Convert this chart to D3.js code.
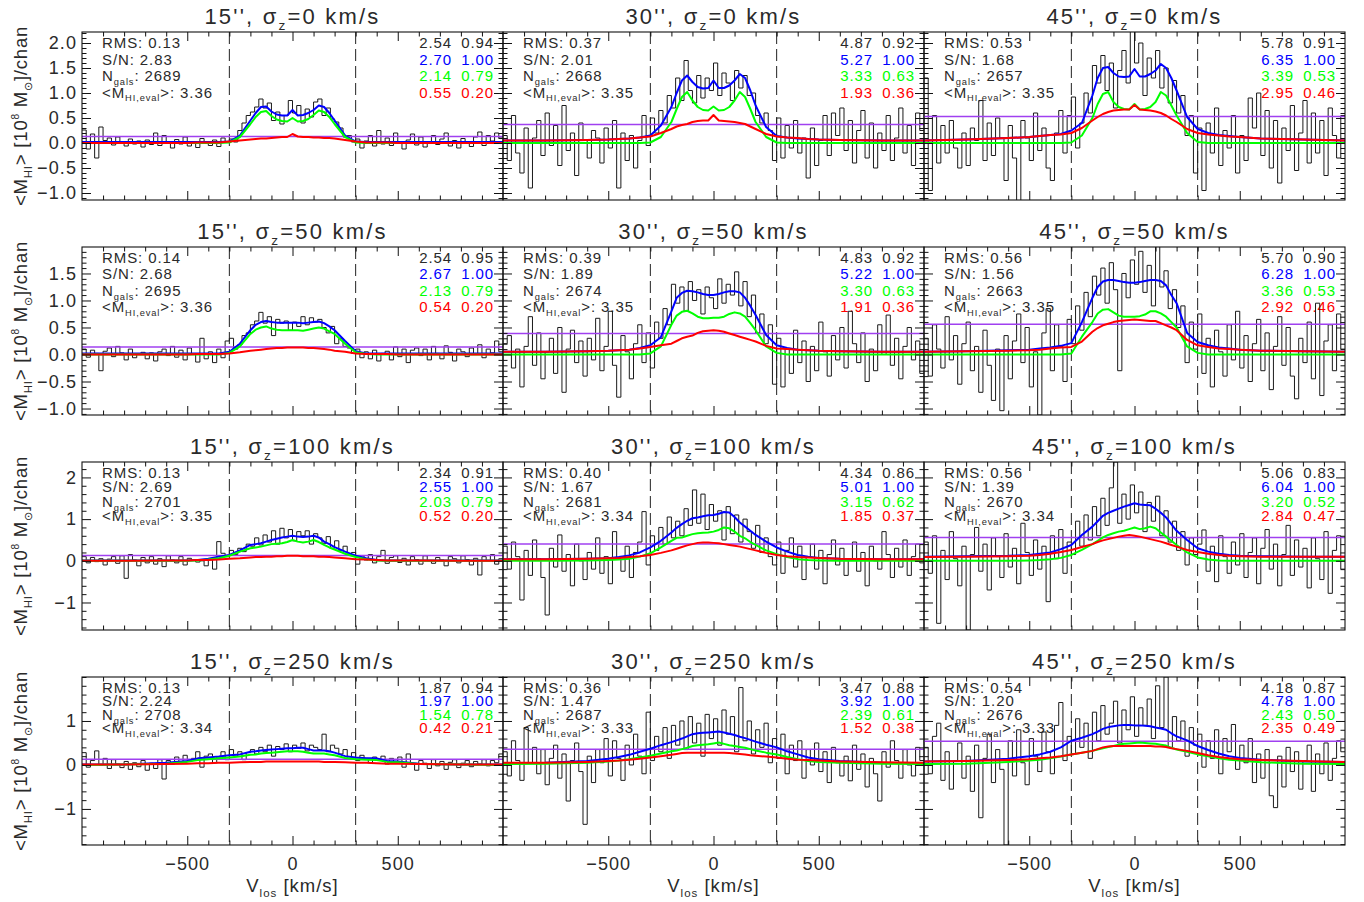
<!DOCTYPE html>
<html>
<head>
<meta charset="utf-8">
<script src="https://cdn.jsdelivr.net/npm/d3@7"></script>
<style>
  body { margin: 0; background: #fff; }
  svg text { font-family: "Liberation Sans", Arial, sans-serif; fill: #2a2a2a; }
</style>
</head>
<body>
<svg id="fig" width="1364" height="902"></svg>
<script>
// ---- stacked HI spectra: apertures (columns) x velocity dispersion (rows) ----
const apertures = ["15''", "30''", "45''"];
const sigmaZ = [0, 50, 100, 250];

// channel centres of the stacked spectra, km/s (20 km/s channels)
const chanV = d3.range(-990, 991, 20);
// velocity grid of the model profiles, km/s
const modelV = [-1000,-800,-600,-500,-450,-400,-350,-300,-250,-200,-175,-150,-125,-100,-75,-50,-25,0,
                25,50,75,100,125,150,175,200,250,300,350,400,450,500,600,800,1000];

const xTicksMajor = [-500, 0, 500];
const yTicksMajor = [[-1.0,-0.5,0.0,0.5,1.0,1.5,2.0], [-1.0,-0.5,0.0,0.5,1.0,1.5], [-1,0,1,2], [-1,0,1]];
const yRange = [[-1.14, 2.22], [-1.12, 1.99], [-1.66, 2.37], [-1.82, 2.0]];

// annotation values
const rms   = [[0.13,0.37,0.53],[0.14,0.39,0.56],[0.13,0.40,0.56],[0.13,0.36,0.54]];
const snr   = [[2.83,2.01,1.68],[2.68,1.89,1.56],[2.69,1.67,1.39],[2.24,1.47,1.20]];
const nGals = [[2689,2668,2657],[2695,2674,2663],[2701,2681,2670],[2708,2687,2676]];
const mEval = [[3.36,3.35,3.35],[3.36,3.35,3.35],[3.35,3.34,3.34],[3.34,3.33,3.33]];
const fluxObs   = [[[2.54,0.94],[4.87,0.92],[5.78,0.91]],[[2.54,0.95],[4.83,0.92],[5.70,0.90]],[[2.34,0.91],[4.34,0.86],[5.06,0.83]],[[1.87,0.94],[3.47,0.88],[4.18,0.87]]];
const fluxTotal = [[[2.70,1.00],[5.27,1.00],[6.35,1.00]],[[2.67,1.00],[5.22,1.00],[6.28,1.00]],[[2.55,1.00],[5.01,1.00],[6.04,1.00]],[[1.97,1.00],[3.92,1.00],[4.78,1.00]]];
const fluxTarget= [[[2.14,0.79],[3.33,0.63],[3.39,0.53]],[[2.13,0.79],[3.30,0.63],[3.36,0.53]],[[2.03,0.79],[3.15,0.62],[3.20,0.52]],[[1.54,0.78],[2.39,0.61],[2.43,0.50]]];
const fluxConf  = [[[0.55,0.20],[1.93,0.36],[2.95,0.46]],[[0.54,0.20],[1.91,0.36],[2.92,0.46]],[[0.52,0.20],[1.85,0.37],[2.84,0.47]],[[0.42,0.21],[1.52,0.38],[2.35,0.49]]];

// ---- stacked spectra (10^8 Msun per channel) ----
const obs_s0_15 = [0.26,-0.12,0.18,-0.30,0.32,0.05,0.10,-0.04,0.12,0.02,
 -0.06,0.08,-0.02,0.04,-0.08,0.06,-0.03,0.20,-0.05,0.15,
 0.01,-0.10,0.07,-0.02,0.12,-0.06,0.03,-0.09,0.09,0.00,
 -0.05,0.06,-0.07,0.10,0.03,0.08,0.02,0.25,0.40,0.55,
 0.62,0.72,0.88,0.70,0.80,0.45,0.62,0.38,0.55,0.85,
 0.60,0.75,0.40,0.68,0.52,0.82,0.88,0.55,0.70,0.48,
 0.42,0.30,0.12,0.15,0.02,0.08,-0.10,0.04,0.15,-0.06,
 0.25,-0.02,0.10,-0.05,0.20,0.02,-0.12,0.06,0.18,-0.04,
 0.12,-0.08,0.03,0.15,-0.03,0.08,0.20,-0.06,0.05,-0.10,
 0.09,0.02,-0.07,0.12,0.22,-0.05,0.15,0.04,0.20,0.10];
const obs_s0_30 = [0.15,-0.35,0.55,-0.20,-0.60,0.30,-0.90,0.10,0.45,-0.25,
 0.60,-0.05,0.35,-0.45,0.75,-0.15,0.20,-0.65,0.40,0.05,
 -0.30,0.25,0.10,-0.40,0.30,-0.10,0.45,-0.90,0.20,-0.35,
 0.15,-0.50,0.05,0.55,-0.05,0.50,0.20,0.65,0.40,0.95,
 0.70,1.30,0.85,1.65,1.05,0.80,1.35,0.90,1.30,1.05,
 1.60,0.95,1.40,1.20,0.85,1.45,1.10,1.35,0.95,1.00,
 0.55,0.40,0.60,0.25,-0.35,0.50,-0.30,0.35,-0.10,0.45,
 -0.20,0.10,-0.70,0.30,-0.45,0.05,0.55,-0.25,0.60,0.15,
 0.70,-0.15,0.45,-0.40,0.25,0.65,-0.30,0.40,-0.50,0.20,
 -0.15,0.55,-0.35,0.10,0.70,-0.20,0.35,-0.45,0.60,0.25];
const obs_s0_45 = [1.30,-0.95,0.55,-0.40,0.35,-0.20,0.45,-0.10,-0.50,0.20,
 -0.45,0.30,0.05,0.85,-0.35,0.40,-0.25,0.50,0.10,-0.75,
 0.35,-0.30,-1.15,0.45,0.10,-0.35,0.60,-0.15,0.30,-0.50,
 -0.75,0.20,0.65,-0.20,0.55,0.92,-0.10,0.40,1.00,0.60,
 1.55,1.20,1.75,1.05,1.60,0.70,1.45,1.85,1.20,2.30,
 1.60,2.00,0.95,1.70,1.30,1.85,1.10,1.50,0.80,1.25,
 0.60,0.95,0.15,0.55,-0.60,0.30,-0.95,0.40,-0.20,0.70,
 -0.45,0.25,-0.10,0.55,-0.60,0.15,-0.35,0.90,0.30,1.00,
 -0.25,0.65,-0.50,0.45,-0.80,0.30,-0.15,0.75,-0.55,0.20,
 0.85,-0.40,0.60,-0.20,0.45,-0.65,0.70,0.15,-0.30,0.55];
const obs_s50_15 = [0.10,-0.05,0.08,0.02,-0.30,0.06,0.12,-0.04,0.15,0.03,
 -0.10,0.10,-0.06,0.00,0.04,-0.08,0.03,-0.12,0.05,0.10,
 -0.02,0.15,-0.05,0.08,-0.10,0.12,0.00,-0.14,0.30,-0.08,
 0.05,-0.15,0.10,-0.06,0.25,0.30,0.10,0.18,0.35,0.40,
 0.55,0.62,0.78,0.58,0.70,0.35,0.65,0.58,0.62,0.45,
 0.60,0.52,0.70,0.55,0.68,0.60,0.65,0.50,0.40,0.52,
 0.20,0.30,0.15,0.12,0.02,0.10,-0.06,0.05,-0.08,0.08,
 -0.12,0.02,0.06,-0.10,0.14,-0.04,0.10,-0.15,0.08,0.12,
 -0.02,0.10,-0.10,0.15,0.02,-0.08,0.16,0.04,-0.12,0.10,
 0.05,-0.04,0.12,0.00,0.18,-0.06,0.10,0.03,0.25,0.05];
const obs_s50_30 = [0.20,0.35,-0.25,0.10,-0.60,0.15,0.70,-0.20,0.40,-0.45,
 0.05,0.30,-0.35,0.50,-0.70,0.10,0.45,-0.15,0.25,-0.40,
 0.30,-0.10,0.67,-0.30,0.15,0.80,-0.20,-0.79,0.35,0.05,
 -0.45,0.20,0.55,-0.15,0.40,-0.25,0.60,0.30,0.85,0.55,
 1.30,0.95,1.25,0.80,1.35,1.00,1.20,0.75,1.25,1.05,
 0.85,1.40,0.95,1.30,1.10,1.53,0.90,1.35,0.70,1.10,
 0.40,0.75,0.20,0.55,-0.55,0.30,-0.60,0.10,-0.35,0.45,
 -0.15,0.25,-0.50,0.15,-0.30,0.60,0.05,-0.40,0.35,-0.10,
 0.50,-0.25,0.80,0.20,-0.15,0.40,-0.50,0.10,-0.30,0.55,
 0.00,0.73,-0.20,0.30,-0.45,0.15,0.50,-0.10,0.25,-0.35];
const obs_s50_45 = [0.30,-0.40,0.55,0.10,-0.25,0.70,-0.10,0.35,-0.55,0.20,
 0.60,-0.30,0.15,-0.70,0.45,-0.20,-0.85,0.10,-1.04,0.35,
 -0.45,0.25,0.75,-0.15,0.50,-0.60,0.05,-1.12,0.40,0.85,
 -0.30,0.55,0.15,-0.50,0.65,0.20,0.90,0.45,1.15,0.70,
 1.45,1.10,1.60,0.95,1.70,1.20,-0.30,1.50,1.05,1.75,
 1.30,1.91,1.15,1.65,0.90,2.00,1.25,1.55,0.85,1.20,
 0.50,0.90,-0.15,0.60,0.10,0.75,-0.35,0.30,-0.60,0.45,
 0.05,-0.40,0.55,-0.10,0.80,-0.25,0.35,-0.50,0.20,0.65,
 -0.30,0.40,-0.65,0.15,0.70,-0.20,0.50,-0.40,-0.82,0.30,
 -0.15,0.60,-0.45,0.95,-0.76,0.25,0.55,-0.30,0.75,0.10];
const obs_s100_15 = [0.10,-0.05,0.08,-0.02,0.05,-0.10,0.04,0.10,-0.06,0.12,
 -0.42,0.15,0.02,-0.12,0.08,-0.05,0.10,-0.08,0.05,-0.14,
 0.12,0.02,-0.05,0.10,-0.10,0.06,0.02,-0.03,0.00,-0.12,
 0.05,-0.20,0.46,0.18,0.10,0.25,0.15,0.30,0.22,0.40,
 0.35,0.55,0.38,0.62,0.45,0.72,0.40,0.78,0.55,0.75,
 0.48,0.70,0.60,0.72,0.40,0.65,0.55,0.42,0.58,0.30,
 0.48,0.25,0.35,0.15,0.20,-0.08,0.12,0.02,0.15,-0.05,
 0.10,0.25,-0.06,0.08,0.12,-0.04,0.06,-0.10,0.10,0.03,
 -0.08,0.12,0.00,-0.06,0.08,0.02,-0.12,0.10,0.05,-0.05,
 0.12,0.03,-0.10,0.06,-0.34,0.10,0.00,0.15,-0.08,0.05];
const obs_s100_30 = [0.35,-0.20,0.45,0.10,-0.94,0.25,-0.35,0.50,0.05,-0.40,
 -1.30,0.30,-0.15,0.62,-0.25,0.15,-0.60,0.40,0.00,-0.45,
 0.20,-0.20,0.55,-0.30,0.10,-0.55,0.70,0.05,-0.25,0.35,
 -0.40,0.20,0.45,1.18,-0.10,0.60,0.25,0.80,0.40,1.05,
 0.55,0.95,0.60,1.25,0.85,1.70,0.90,1.60,0.75,1.35,
 0.95,1.20,0.50,1.30,0.65,1.10,0.45,1.00,0.70,0.30,
 0.85,0.20,0.55,0.10,-0.10,0.45,-0.30,0.25,0.55,-0.15,
 0.35,-0.45,0.10,0.40,-0.20,0.25,-0.55,0.15,0.50,-0.10,
 0.30,-0.35,0.05,0.45,-0.25,0.20,-0.60,0.35,0.00,-0.20,
 0.70,0.15,-0.40,0.30,-0.15,0.50,-0.35,0.10,0.40,-0.05];
const obs_s100_45 = [0.45,-0.30,0.60,-1.50,0.25,-0.45,0.70,0.05,-0.60,0.35,
 -1.66,0.15,0.80,-0.25,0.40,-0.70,0.55,0.10,-0.40,0.65,
 -0.15,0.30,-0.55,0.90,0.20,-0.35,0.50,-0.20,0.35,-0.98,
 0.60,0.05,0.75,-0.30,0.45,0.15,0.95,0.35,1.10,0.50,
 1.30,0.60,1.50,0.85,1.75,2.37,0.90,1.60,1.00,1.82,
 1.15,1.65,0.70,1.40,0.95,1.55,0.60,1.20,0.45,0.95,
 0.25,0.70,-0.10,0.55,0.15,0.40,0.74,-0.25,0.35,-0.50,
 0.60,0.10,-0.30,0.45,-0.10,0.65,-0.40,0.20,0.55,-0.55,
 0.30,0.75,-0.20,0.40,-0.60,0.15,0.85,-0.35,0.50,-0.15,
 0.30,-0.65,0.55,0.05,-0.45,0.70,-0.78,0.25,0.60,-0.20];
const obs_s250_15 = [0.28,-0.05,0.10,0.32,0.00,0.15,-0.08,0.12,0.02,-0.06,
 0.08,-0.10,0.05,-0.04,0.10,-0.12,0.04,-0.08,0.12,-0.32,
 0.10,0.02,0.18,0.05,0.22,0.08,0.15,0.30,-0.05,0.20,
 0.25,0.05,0.18,0.30,0.12,0.35,0.20,0.30,0.12,0.28,
 0.35,0.25,0.40,0.30,0.45,0.20,0.42,0.35,0.48,0.30,
 0.45,0.38,0.50,0.32,0.45,0.40,0.35,0.70,0.30,0.45,
 0.38,0.25,0.35,0.15,0.28,0.10,0.22,0.15,0.05,0.18,
 0.12,0.20,0.02,0.15,0.08,0.18,-0.05,0.25,0.02,-0.12,
 0.10,0.04,-0.08,0.12,-0.02,0.08,-0.10,0.06,0.12,-0.06,
 0.04,0.10,-0.04,0.08,0.02,0.12,-0.02,0.10,0.05,0.25];
const obs_s250_30 = [0.30,-0.25,0.55,0.10,-0.35,0.85,0.05,0.40,-0.20,0.35,
 -0.45,0.15,0.45,-0.30,0.25,-0.82,0.10,0.50,-0.15,-1.35,
 0.20,-0.40,0.35,0.05,0.60,-0.25,0.55,0.15,-0.35,0.45,
 0.00,0.70,0.20,-0.20,1.20,0.10,0.65,0.30,0.85,0.15,
 0.90,0.45,1.00,0.35,1.10,0.50,0.95,0.20,1.15,0.60,
 1.05,0.45,1.25,0.70,1.10,0.30,1.76,0.55,1.00,0.25,
 0.80,0.40,0.95,0.05,0.60,0.15,0.70,-0.20,0.45,0.10,
 0.55,-0.30,0.35,0.00,0.50,-0.15,0.30,-0.40,0.40,0.05,
 -0.25,0.20,-0.36,0.45,-0.10,0.25,-0.50,0.15,-0.20,-0.82,
 0.30,-0.05,0.55,0.10,-0.30,0.35,0.00,-0.25,0.40,0.10];
const obs_s250_45 = [0.40,-0.20,0.65,0.95,-0.35,0.30,-0.55,0.10,0.50,-0.30,
 0.20,-0.60,0.45,-1.20,0.15,0.70,-0.40,0.35,-0.10,-1.82,
 0.55,-0.25,0.80,0.05,-0.45,0.60,0.20,-0.15,0.75,0.30,
 -0.20,0.90,1.42,0.10,0.65,0.25,1.05,0.40,0.95,0.15,
 1.20,0.55,1.35,0.70,0.95,1.45,0.50,1.25,0.80,1.55,
 0.65,1.30,0.90,1.50,0.60,1.80,0.85,2.00,0.40,1.10,
 0.55,1.00,0.20,0.85,0.45,0.70,-0.05,0.55,0.15,0.80,
 -0.20,0.60,0.30,0.92,-0.10,0.45,0.05,0.60,-0.40,0.25,
 -0.30,0.35,-0.70,-0.97,0.20,-0.50,0.40,-0.15,0.30,-0.55,
 0.10,0.45,-0.60,0.25,-0.20,0.50,-0.35,0.15,0.55,0.30];

// ---- model profiles on modelV: total (blue), target (green), confused (red) ----
const blue_s0_15  = [0.02,0.02,0.02,0.02,0.02,0.02,0.02,0.03,0.15,0.45,0.60,0.72,0.73,0.63,0.57,0.55,0.55,0.66,0.55,0.56,0.60,0.66,0.75,0.72,0.60,0.45,0.15,0.03,0.02,0.02,0.02,0.02,0.02,0.02,0.02];
const green_s0_15 = [0,0,0,0,0,0,0,0.01,0.12,0.38,0.52,0.62,0.64,0.54,0.47,0.44,0.43,0.50,0.43,0.44,0.48,0.56,0.65,0.62,0.52,0.38,0.12,0.01,0,0,0,0,0,0,0];
const red_s0_15   = [0,0,0,0,0.01,0.01,0.01,0.03,0.05,0.07,0.08,0.09,0.09,0.10,0.11,0.12,0.12,0.18,0.13,0.12,0.12,0.11,0.11,0.10,0.10,0.09,0.06,0.03,0.01,0.01,0.01,0,0,0,0];
const blue_s0_30  = [0.05,0.05,0.06,0.07,0.08,0.09,0.11,0.15,0.35,0.72,1.00,1.25,1.35,1.22,1.12,1.09,1.10,1.25,1.10,1.10,1.15,1.25,1.38,1.30,1.05,0.75,0.32,0.14,0.11,0.09,0.08,0.07,0.06,0.05,0.05];
const green_s0_30 = [0,0,0,0,0,0,0,0.01,0.12,0.42,0.68,0.92,1.02,0.85,0.72,0.66,0.65,0.73,0.65,0.66,0.72,0.85,1.02,0.92,0.68,0.42,0.12,0.01,0,0,0,0,0,0,0];
const red_s0_30   = [0.05,0.05,0.06,0.07,0.08,0.09,0.11,0.13,0.20,0.28,0.33,0.36,0.38,0.42,0.44,0.45,0.45,0.56,0.45,0.44,0.43,0.42,0.40,0.38,0.33,0.28,0.18,0.13,0.11,0.10,0.08,0.07,0.06,0.05,0.05];
const blue_s0_45  = [0.05,0.07,0.10,0.12,0.14,0.16,0.18,0.25,0.40,0.95,1.30,1.50,1.52,1.40,1.33,1.32,1.33,1.48,1.33,1.33,1.38,1.45,1.58,1.50,1.30,1.05,0.52,0.28,0.20,0.16,0.14,0.12,0.09,0.07,0.05];
const green_s0_45 = [0,0,0,0,0,0,0,0.01,0.15,0.50,0.78,0.98,1.02,0.82,0.72,0.68,0.67,0.78,0.67,0.68,0.72,0.82,1.02,0.95,0.75,0.55,0.20,0.02,0,0,0,0,0,0,0];
const red_s0_45   = [0.05,0.07,0.10,0.12,0.14,0.16,0.17,0.20,0.30,0.45,0.52,0.58,0.62,0.65,0.66,0.67,0.67,0.76,0.67,0.66,0.65,0.63,0.60,0.55,0.48,0.42,0.28,0.20,0.17,0.15,0.13,0.12,0.09,0.07,0.05];

const blue_s50_15  = [0.02,0.02,0.02,0.02,0.02,0.02,0.02,0.05,0.20,0.45,0.55,0.60,0.62,0.60,0.59,0.59,0.59,0.59,0.59,0.58,0.59,0.60,0.61,0.58,0.52,0.45,0.25,0.06,0.02,0.02,0.02,0.02,0.02,0.02,0.02];
const green_s50_15 = [0,0,0,0,0,0,0,0.03,0.15,0.38,0.46,0.50,0.52,0.48,0.46,0.45,0.45,0.45,0.45,0.44,0.46,0.48,0.50,0.48,0.43,0.38,0.20,0.04,0.01,0,0,0,0,0,0];
const red_s50_15   = [0,0,0,0,0.01,0.01,0.01,0.02,0.04,0.07,0.08,0.09,0.10,0.11,0.12,0.12,0.13,0.13,0.13,0.13,0.12,0.12,0.11,0.10,0.09,0.07,0.05,0.02,0.01,0.01,0.01,0,0,0,0];
const blue_s50_30  = [0.05,0.05,0.06,0.07,0.08,0.09,0.12,0.17,0.32,0.80,1.05,1.14,1.18,1.17,1.15,1.12,1.10,1.10,1.12,1.15,1.17,1.17,1.15,1.05,0.90,0.73,0.36,0.17,0.12,0.09,0.08,0.07,0.06,0.05,0.05];
const green_s50_30 = [0,0,0,0,0,0,0,0.02,0.15,0.55,0.72,0.79,0.81,0.76,0.70,0.67,0.67,0.68,0.68,0.70,0.75,0.78,0.76,0.70,0.58,0.45,0.15,0.03,0,0,0,0,0,0,0];
const red_s50_30   = [0.05,0.05,0.06,0.07,0.08,0.09,0.11,0.14,0.17,0.20,0.25,0.30,0.33,0.35,0.40,0.43,0.44,0.45,0.44,0.42,0.39,0.36,0.33,0.30,0.27,0.24,0.16,0.11,0.10,0.09,0.08,0.07,0.06,0.05,0.05];
const blue_s50_45  = [0.05,0.06,0.08,0.09,0.11,0.13,0.16,0.21,0.60,1.05,1.25,1.35,1.38,1.38,1.36,1.34,1.33,1.33,1.34,1.36,1.38,1.38,1.36,1.28,1.10,0.95,0.40,0.23,0.17,0.13,0.11,0.09,0.07,0.06,0.05];
const green_s50_45 = [0,0,0,0,0,0,0,0.02,0.33,0.60,0.76,0.83,0.84,0.78,0.72,0.70,0.70,0.70,0.71,0.74,0.80,0.80,0.76,0.70,0.60,0.50,0.15,0.03,0,0,0,0,0,0,0];
const red_s50_45   = [0.05,0.06,0.07,0.08,0.09,0.11,0.13,0.14,0.24,0.42,0.49,0.54,0.57,0.60,0.62,0.63,0.64,0.65,0.64,0.63,0.62,0.62,0.58,0.54,0.50,0.45,0.27,0.17,0.14,0.11,0.10,0.09,0.07,0.06,0.05];

const blue_s100_15  = [0.01,0.01,0.01,0.01,0.02,0.05,0.10,0.14,0.25,0.38,0.40,0.42,0.46,0.50,0.53,0.56,0.58,0.60,0.58,0.57,0.58,0.60,0.56,0.46,0.40,0.33,0.22,0.12,0.06,0.02,0.01,0.01,0.01,0.01,0.01];
const green_s100_15 = [0,0,0,0,0.01,0.03,0.06,0.12,0.22,0.30,0.32,0.34,0.37,0.40,0.41,0.42,0.45,0.50,0.46,0.44,0.46,0.50,0.45,0.38,0.32,0.27,0.17,0.09,0.04,0.01,0,0,0,0,0];
const red_s100_15   = [0,0,0.01,0.01,0.02,0.02,0.03,0.05,0.06,0.08,0.09,0.09,0.10,0.10,0.11,0.11,0.12,0.12,0.12,0.11,0.11,0.11,0.10,0.10,0.09,0.08,0.06,0.04,0.03,0.02,0.01,0.01,0.01,0,0];
const blue_s100_30  = [0.04,0.04,0.05,0.06,0.09,0.13,0.20,0.32,0.48,0.68,0.79,0.88,0.96,1.02,1.04,1.07,1.09,1.10,1.13,1.17,1.16,1.05,0.92,0.82,0.72,0.62,0.46,0.32,0.22,0.14,0.10,0.07,0.05,0.04,0.04];
const green_s100_30 = [0,0,0.01,0.02,0.03,0.05,0.10,0.18,0.32,0.48,0.55,0.56,0.60,0.64,0.66,0.67,0.68,0.70,0.74,0.80,0.78,0.70,0.60,0.54,0.45,0.38,0.25,0.16,0.09,0.04,0.02,0.01,0,0,0];
const red_s100_30   = [0.04,0.04,0.05,0.06,0.07,0.09,0.11,0.14,0.19,0.25,0.29,0.33,0.37,0.40,0.43,0.44,0.44,0.43,0.42,0.40,0.38,0.36,0.34,0.31,0.28,0.25,0.19,0.14,0.11,0.09,0.08,0.07,0.05,0.04,0.04];
const blue_s100_45  = [0.10,0.11,0.12,0.14,0.17,0.20,0.28,0.38,0.62,0.82,0.95,1.08,1.15,1.20,1.25,1.30,1.34,1.38,1.35,1.34,1.33,1.25,1.15,1.04,0.88,0.72,0.50,0.30,0.22,0.17,0.14,0.12,0.11,0.10,0.10];
const green_s100_45 = [0,0,0,0.01,0.02,0.04,0.07,0.14,0.26,0.40,0.48,0.56,0.62,0.66,0.70,0.72,0.76,0.80,0.76,0.78,0.82,0.78,0.68,0.58,0.48,0.38,0.20,0.08,0.03,0.01,0,0,0,0,0];
const red_s100_45   = [0.09,0.10,0.11,0.12,0.14,0.17,0.21,0.26,0.33,0.40,0.45,0.49,0.52,0.55,0.58,0.60,0.62,0.60,0.58,0.55,0.52,0.49,0.46,0.42,0.38,0.34,0.26,0.21,0.17,0.14,0.12,0.11,0.10,0.10,0.10];

const blue_s250_15  = [0.01,0.01,0.05,0.09,0.15,0.17,0.19,0.22,0.24,0.30,0.31,0.33,0.34,0.35,0.36,0.37,0.38,0.38,0.39,0.39,0.36,0.33,0.33,0.33,0.31,0.28,0.20,0.17,0.15,0.15,0.09,0.08,0.03,0.01,0.01];
const green_s250_15 = [0,0.01,0.03,0.07,0.11,0.13,0.15,0.17,0.19,0.23,0.24,0.26,0.27,0.28,0.29,0.30,0.31,0.31,0.31,0.30,0.28,0.26,0.26,0.26,0.24,0.22,0.16,0.13,0.12,0.11,0.07,0.06,0.02,0.01,0];
const red_s250_15   = [0.01,0.01,0.02,0.03,0.04,0.04,0.05,0.05,0.06,0.07,0.07,0.07,0.08,0.08,0.08,0.08,0.08,0.08,0.08,0.08,0.08,0.08,0.08,0.07,0.07,0.07,0.06,0.05,0.05,0.04,0.03,0.03,0.02,0.01,0.01];
const blue_s250_30  = [0.04,0.05,0.09,0.14,0.18,0.23,0.30,0.37,0.45,0.52,0.56,0.60,0.65,0.70,0.72,0.73,0.74,0.75,0.76,0.74,0.71,0.68,0.64,0.61,0.57,0.53,0.46,0.40,0.31,0.24,0.17,0.13,0.09,0.05,0.04];
const green_s250_30 = [0.02,0.03,0.05,0.08,0.10,0.13,0.17,0.21,0.26,0.31,0.33,0.36,0.39,0.43,0.45,0.46,0.47,0.49,0.51,0.48,0.45,0.43,0.41,0.39,0.36,0.33,0.28,0.24,0.18,0.13,0.09,0.07,0.05,0.03,0.02];
const red_s250_30   = [0.05,0.05,0.07,0.09,0.10,0.12,0.14,0.17,0.20,0.23,0.25,0.27,0.28,0.28,0.28,0.28,0.28,0.28,0.28,0.28,0.27,0.26,0.25,0.24,0.22,0.21,0.19,0.17,0.14,0.12,0.11,0.10,0.08,0.06,0.05];
const blue_s250_45  = [0.08,0.09,0.14,0.20,0.24,0.30,0.40,0.55,0.62,0.70,0.76,0.82,0.86,0.88,0.90,0.91,0.91,0.90,0.90,0.89,0.88,0.85,0.83,0.80,0.72,0.65,0.56,0.43,0.34,0.26,0.20,0.16,0.12,0.08,0.07];
const green_s250_45 = [0.02,0.03,0.07,0.10,0.12,0.15,0.19,0.24,0.28,0.32,0.35,0.38,0.41,0.43,0.46,0.48,0.49,0.50,0.51,0.50,0.49,0.48,0.46,0.44,0.39,0.35,0.30,0.24,0.20,0.15,0.12,0.10,0.06,0.03,0.02];
const red_s250_45   = [0.08,0.09,0.11,0.13,0.15,0.17,0.20,0.24,0.28,0.32,0.36,0.40,0.42,0.43,0.43,0.43,0.43,0.43,0.43,0.43,0.43,0.42,0.42,0.41,0.38,0.36,0.32,0.27,0.22,0.18,0.15,0.13,0.11,0.09,0.07];

// per-panel lookup built from the arrays above
const panels = [
  [{obs:obs_s0_15, blue:blue_s0_15, green:green_s0_15, red:red_s0_15},
   {obs:obs_s0_30, blue:blue_s0_30, green:green_s0_30, red:red_s0_30},
   {obs:obs_s0_45, blue:blue_s0_45, green:green_s0_45, red:red_s0_45}],
  [{obs:obs_s50_15, blue:blue_s50_15, green:green_s50_15, red:red_s50_15},
   {obs:obs_s50_30, blue:blue_s50_30, green:green_s50_30, red:red_s50_30},
   {obs:obs_s50_45, blue:blue_s50_45, green:green_s50_45, red:red_s50_45}],
  [{obs:obs_s100_15, blue:blue_s100_15, green:green_s100_15, red:red_s100_15},
   {obs:obs_s100_30, blue:blue_s100_30, green:green_s100_30, red:red_s100_30},
   {obs:obs_s100_45, blue:blue_s100_45, green:green_s100_45, red:red_s100_45}],
  [{obs:obs_s250_15, blue:blue_s250_15, green:green_s250_15, red:red_s250_15},
   {obs:obs_s250_30, blue:blue_s250_30, green:green_s250_30, red:red_s250_30},
   {obs:obs_s250_45, blue:blue_s250_45, green:green_s250_45, red:red_s250_45}]
];

// ---- layout ----
const FONT = '"Liberation Sans", Arial, sans-serif';
const colX = [82, 503, 924], rowY = [32, 247, 462, 677];
const PW = 421, PH = 168;
const lineGap = [16.5, 16.3, 14.4, 13.4];
const COL = {obs: "#1a1a1a", blue: "#0000ff", green: "#00ff00", red: "#ff0000", rms: "#a040f0", text: "#2a2a2a"};

const svg = d3.select("#fig");
const x = d3.scaleLinear().domain([-1000, 1000]).range([0, PW]);
const f2 = d3.format(".2f");

// text with sub/superscript pieces
function rich(sel, parts, size) {
  let shift = 0;
  parts.forEach(p => {
    const t = sel.append("tspan").text(p.t);
    let target = 0;
    if (p.sub) { t.attr("font-size", size * 0.62); target = size * 0.26; }
    else if (p.sup) { t.attr("font-size", size * 0.55); target = -size * 0.45; }
    if (target !== shift) { t.attr("dy", target - shift); shift = target; }
  });
  return sel;
}

const histLine = d3.line().curve(d3.curveStepAfter);
const modelLine = d3.line();

sigmaZ.forEach((sz, r) => {
  const y = d3.scaleLinear().domain(yRange[r]).range([PH, 0]);
  const yFmt = r < 2 ? d3.format(".1f") : d3.format("d");
  const mStep = r < 2 ? 0.1 : 0.2;
  const yMinor = d3.range(-30, 31).map(k => +(k * mStep).toFixed(2))
    .filter(v => v >= yRange[r][0] && v <= yRange[r][1] && !yTicksMajor[r].some(m => Math.abs(m - v) < 1e-6));
  const xMinor = d3.range(-900, 1000, 100).filter(v => !xTicksMajor.includes(v));

  // y-axis title for the row
  const yl = svg.append("text")
    .attr("transform", `translate(27,${rowY[r] + PH / 2}) rotate(-90)`)
    .attr("text-anchor", "middle").attr("font-size", 18.5).attr("letter-spacing", 0.8);
  rich(yl, [{t: "<M"}, {t: "HI", sub: true}, {t: ">  [10"}, {t: "8", sup: true}, {t: " M"}, {t: "\u2299", sub: true}, {t: "]/chan"}], 18.5);

  apertures.forEach((ap, c) => {
    const d = panels[r][c];
    const g = svg.append("g").attr("transform", `translate(${colX[c]},${rowY[r]})`);
    const clipId = `clip-${r}-${c}`;
    g.append("clipPath").attr("id", clipId).append("rect").attr("width", PW).attr("height", PH);

    // panel title
    const tt = g.append("text").attr("x", PW / 2).attr("y", -8).attr("text-anchor", "middle")
      .attr("font-size", 22).attr("letter-spacing", 2.2);
    rich(tt, [{t: `${ap}, \u03c3`}, {t: "z", sub: true}, {t: `=${sz} km/s`}], 22);

    // statistics block (left)
    const tx = 20, ty0 = 16, gap = lineGap[r];
    const lt = (i) => g.append("text").attr("x", tx).attr("y", ty0 + i * gap).attr("font-size", 15).attr("letter-spacing", 0.9);
    lt(0).text(`RMS: ${f2(rms[r][c])}`);
    lt(1).text(`S/N: ${f2(snr[r][c])}`);
    rich(lt(2), [{t: "N"}, {t: "gals", sub: true}, {t: `:  ${nGals[r][c]}`}], 15);
    rich(lt(3), [{t: "<M"}, {t: "HI,eval", sub: true}, {t: `>:  ${f2(mEval[r][c])}`}], 15);

    // integrated flux block (right)
    [[fluxObs, COL.text], [fluxTotal, COL.blue], [fluxTarget, COL.green], [fluxConf, COL.red]].forEach(([arr, col], i) => {
      const yy = ty0 + i * gap;
      g.append("text").attr("x", PW - 51).attr("y", yy).attr("text-anchor", "end").attr("font-size", 15)
        .attr("letter-spacing", 0.9).style("fill", col).text(f2(arr[r][c][0]));
      g.append("text").attr("x", PW - 9).attr("y", yy).attr("text-anchor", "end").attr("font-size", 15)
        .attr("letter-spacing", 0.9).style("fill", col).text(f2(arr[r][c][1]));
    });

    const plot = g.append("g").attr("clip-path", `url(#${clipId})`);

    // stacked spectrum as a histogram
    const pts = d.obs.map((v, i) => [x(chanV[i] - 10), y(v)]);
    pts.push([x(chanV[chanV.length - 1] + 10), y(d.obs[d.obs.length - 1])]);
    plot.append("path").attr("d", histLine(pts)).attr("fill", "none")
      .attr("stroke", COL.obs).attr("stroke-width", 1);

    // velocity window
    [-300, 300].forEach(v => {
      plot.append("line").attr("x1", x(v)).attr("x2", x(v)).attr("y1", 0).attr("y2", PH)
        .attr("stroke", "#222").attr("stroke-width", 1).attr("stroke-dasharray", "12,5");
    });

    // rms level
    plot.append("line").attr("x1", 0).attr("x2", PW).attr("y1", y(rms[r][c])).attr("y2", y(rms[r][c]))
      .attr("stroke", COL.rms).attr("stroke-width", 1.5);

    // model profiles
    ["blue", "green", "red"].forEach(k => {
      plot.append("path").attr("d", modelLine(d[k].map((v, i) => [x(modelV[i]), y(v)])))
        .attr("fill", "none").attr("stroke", COL[k]).attr("stroke-width", 2)
        .attr("stroke-linejoin", "round");
    });

    // frame
    g.append("rect").attr("width", PW).attr("height", PH).attr("fill", "none")
      .attr("stroke", "#111").attr("stroke-width", 1.1);

    // axes (ticks point inwards on all four sides)
    const style = sel => {
      sel.select(".domain").remove();
      sel.attr("font-family", FONT).attr("font-size", 18).attr("color", "#2a2a2a");
      sel.selectAll("line").attr("stroke", "#111");
      sel.selectAll("text").filter(function () { return !this.textContent; }).remove();
      sel.selectAll("text").attr("letter-spacing", 1.1);
    };
    const none = () => "";
    g.append("g").attr("transform", `translate(0,${PH})`)
      .call(d3.axisBottom(x).tickValues(xTicksMajor).tickSize(-9).tickPadding(12)
        .tickFormat(r === 3 ? d3.format("d") : none)).call(style);
    g.append("g").attr("transform", `translate(0,${PH})`)
      .call(d3.axisBottom(x).tickValues(xMinor).tickSize(-4.5).tickFormat(none)).call(style);
    g.append("g").call(d3.axisTop(x).tickValues(xTicksMajor).tickSize(-9).tickFormat(none)).call(style);
    g.append("g").call(d3.axisTop(x).tickValues(xMinor).tickSize(-4.5).tickFormat(none)).call(style);
    g.append("g").call(d3.axisLeft(y).tickValues(yTicksMajor[r]).tickSize(-9).tickPadding(5)
      .tickFormat(c === 0 ? yFmt : none)).call(style);
    g.append("g").call(d3.axisLeft(y).tickValues(yMinor).tickSize(-4.5).tickFormat(none)).call(style);
    g.append("g").attr("transform", `translate(${PW},0)`)
      .call(d3.axisRight(y).tickValues(yTicksMajor[r]).tickSize(-9).tickFormat(none)).call(style);
    g.append("g").attr("transform", `translate(${PW},0)`)
      .call(d3.axisRight(y).tickValues(yMinor).tickSize(-4.5).tickFormat(none)).call(style);

    // x-axis title under the bottom row
    if (r === 3) {
      const xl = g.append("text").attr("x", PW / 2).attr("y", PH + 47).attr("text-anchor", "middle")
        .attr("font-size", 18.5).attr("letter-spacing", 1);
      rich(xl, [{t: "V"}, {t: "los", sub: true}, {t: "  [km/s]"}], 18.5);
    }
  });
});
</script>
</body>
</html>
